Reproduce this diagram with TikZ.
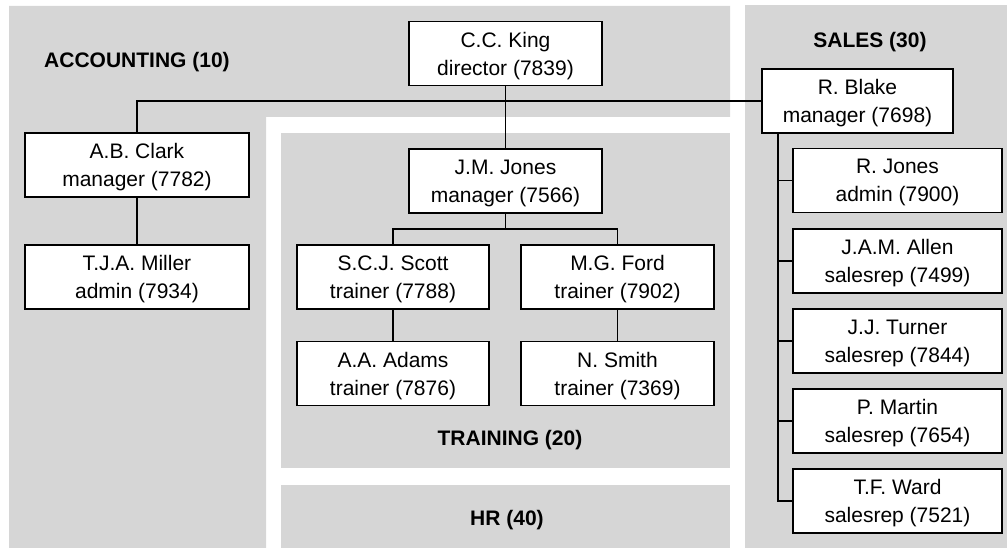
\documentclass[tikz,border=0pt]{standalone}
\usepackage{fontspec}
\setmainfont{Liberation Sans}
\usetikzlibrary{calc}
\definecolor{deptgray}{RGB}{214,214,214}

\begin{document}
\begin{tikzpicture}[x=1pt, y=1pt, line width=1.1pt,
    dept/.style={fill=deptgray, draw=none},
    emp/.style={draw=black, fill=white, align=center, inner sep=0pt,
        minimum height=64pt, text depth=0pt, font=\fontsize{21}{28}\selectfont},
    deptlabel/.style={font=\fontsize{21}{26}\selectfont\bfseries}
]
    \useasboundingbox (0,0) rectangle (1007,548);
    % Departments
    \fill[dept] (9,542) -- (730,542) -- (730,431) -- (266,431) -- (266,0) -- (9,0) -- cycle;
    \fill[dept] (281,80) rectangle (730,415);
    \fill[dept] (281,0) rectangle (730,63);
    \fill[dept] (745,0) rectangle (1007,543);
    \node[deptlabel] (acclabel) at (137,486) {ACCOUNTING (10)};
    \node[deptlabel] (salelabel) at (870,506) {SALES (30)};
    \node[deptlabel] (trainlabel) at (510,108) {TRAINING (20)};
    \node[deptlabel] (hrlabel) at (507,28) {HR (40)};
    % Employees
    \node[emp, minimum width=193pt] (king) at (505.5,494.5) {C.C. King\\director (7839)};
    \node[emp, minimum width=224pt] (clark) at (137,383) {A.B. Clark\\manager (7782)};
    \node[emp, minimum width=224pt] (miller) at (137,271) {T.J.A. Miller\\admin (7934)};
    \node[emp, minimum width=193pt] (jones) at (505.5,367) {J.M. Jones\\manager (7566)};
    \node[emp, minimum width=192pt] (scott) at (393,271) {S.C.J. Scott\\trainer (7788)};
    \node[emp, minimum width=193pt] (ford) at (617.5,271) {M.G. Ford\\trainer (7902)};
    \node[emp, minimum width=192pt] (adams) at (393,174.5) {A.A. Adams\\trainer (7876)};
    \node[emp, minimum width=193pt] (smith) at (617.5,174.5) {N. Smith\\trainer (7369)};
    \node[emp, minimum width=191pt] (blake) at (857.5,447) {R. Blake\\manager (7698)};
    \foreach \name/\who/\job/\y in {rjones/R. Jones/admin (7900)/367.5,
        allen/J.A.M. Allen/salesrep (7499)/287,
        turner/J.J. Turner/salesrep (7844)/207,
        martin/P. Martin/salesrep (7654)/127,
        ward/T.F. Ward/salesrep (7521)/47} {
        \node[emp, minimum width=209pt] (\name) at (897.5,\y) {\who\\\job};
    }
    % Reporting lines
    \coordinate (jsplit) at (505.5,319);
    \coordinate (sbus) at (778,0);
    \draw (clark.north) |- (blake.west);
    \draw (king) -- (jones);
    \draw (jones) -- (jsplit);
    \draw (scott.north) |- (jsplit) -| (ford.north);
    \draw (clark) -- (miller);
    \draw (scott) -- (adams);
    \draw (ford) -- (smith);
    \draw (blake.south -| sbus) |- (ward.west);
    \foreach \name in {rjones, allen, turner, martin} {
        \draw (\name.west) -- (\name.west -| sbus);
    }
\end{tikzpicture}
\end{document}
